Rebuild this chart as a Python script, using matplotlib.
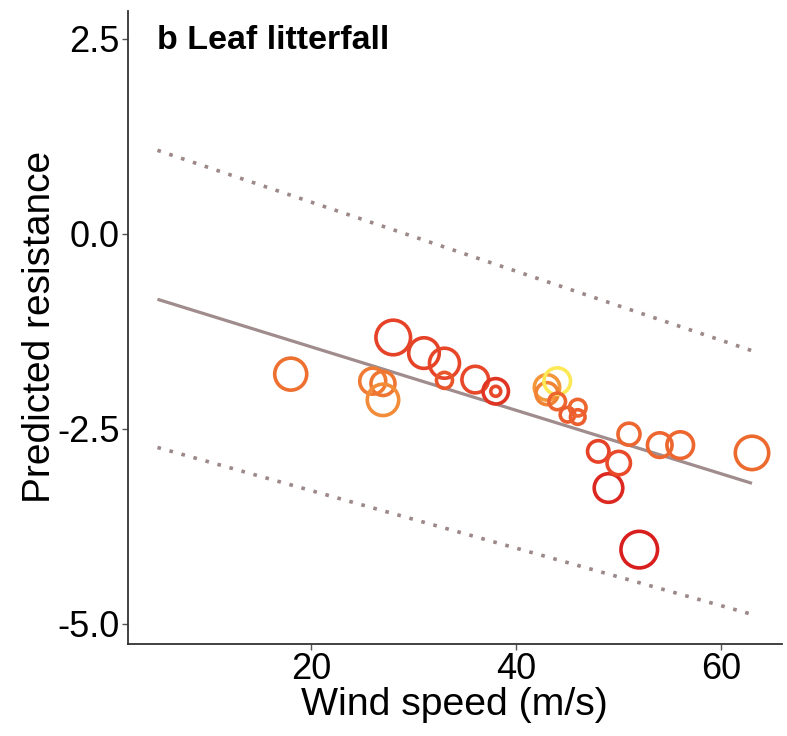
import matplotlib.pyplot as plt
from matplotlib.colors import LinearSegmentedColormap
import numpy as np

plt.rcParams["font.family"] = ["Liberation Sans", "DejaVu Sans"]

# observed sites: wind speed, predicted resistance, size weight, colour value
wind = [18, 26, 27, 27, 28, 31, 33, 33, 36, 38, 38, 43, 43, 44, 44,
        45, 46, 46, 48, 49, 50, 51, 52, 54, 56, 63]
resistance = [-1.80, -1.89, -1.92, -2.13, -1.33, -1.53, -1.66, -1.88, -1.87,
              -2.02, -2.02, -1.97, -2.05, -1.89, -2.15, -2.32, -2.23, -2.35,
              -2.79, -3.26, -2.94, -2.57, -4.05, -2.71, -2.71, -2.81]
weight = [16, 13, 12, 15.7, 17.3, 15.3, 15, 8, 13.3, 12.7, 5, 12.7, 11, 13.3,
          8.3, 7.3, 8.3, 7.3, 10.7, 14.3, 11.7, 11, 18.3, 12.3, 13.3, 16.7]
colour_val = [0.45, 0.50, 0.48, 0.60, 0.22, 0.22, 0.24, 0.32, 0.25, 0.15,
              0.25, 0.65, 0.55, 0.95, 0.40, 0.35, 0.40, 0.36, 0.22, 0.08,
              0.26, 0.40, 0.03, 0.40, 0.40, 0.42]

# model fit and interval ends
fit_x = [5, 63]
fit_y = [-0.84, -3.20]
upper_y = [1.07, -1.50]
lower_y = [-2.74, -4.88]

cmap = LinearSegmentedColormap.from_list(
    "heat", ["#d7191c", "#e8482a", "#f07a32", "#f6a840", "#fff75a"])

fig = plt.figure(figsize=(7.87, 7.36), dpi=100)
ax = fig.add_axes([0.1623, 0.125, 0.831, 0.8605])

line_col = "#a08c8c"
ax.plot(fit_x, fit_y, color=line_col, lw=2.3, solid_capstyle="butt")
for y in (upper_y, lower_y):
    ax.plot(fit_x, y, color="#9c8888", lw=2.6, ls=(0, (1.0, 2.45)),
            dash_capstyle="butt")

sizes = (1.44 * np.array(weight)) ** 2
ax.scatter(wind, resistance, s=sizes, facecolors="none",
           edgecolors=cmap(np.array(colour_val)), linewidths=2.6, zorder=3)

ax.text(5, 2.48, "b Leaf litterfall", fontsize=24.5, fontweight="bold",
        ha="left", va="center")

ax.set_xlim(2.1, 65.9)
ax.set_ylim(-5.26, 2.86)
ax.set_xticks([20, 40, 60])
ax.set_yticks([2.5, 0.0, -2.5, -5.0])
ax.set_yticklabels(["2.5", "0.0", "-2.5", "-5.0"])

for s in ["top", "right"]:
    ax.spines[s].set_visible(False)
for s in ["left", "bottom"]:
    ax.spines[s].set_color("#333333")
    ax.spines[s].set_linewidth(1.3)

ax.tick_params(axis="both", labelsize=26, length=4, width=1.0,
               color="#555555", pad=2)

fig.text(40 / 787, 1 - 327 / 736, "Predicted resistance", fontsize=28,
         rotation=90, ha="center", va="center")
fig.text(454 / 787, 1 - 705 / 736, "Wind speed (m/s)", fontsize=28.3,
         ha="center", va="center")

fig.savefig("out.png", dpi=100)
